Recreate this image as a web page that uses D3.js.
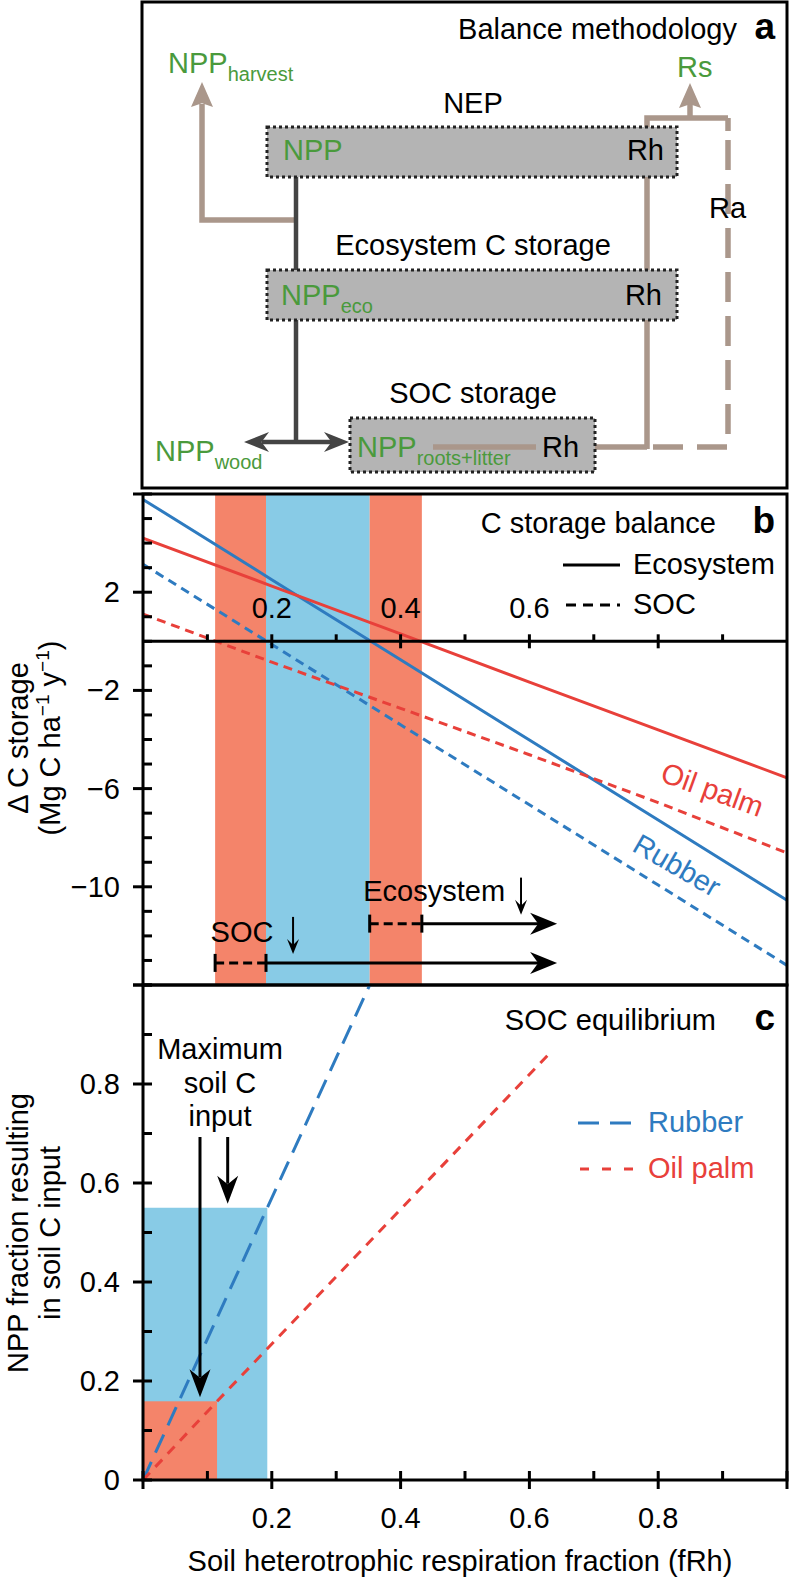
<!DOCTYPE html>
<html><head><meta charset="utf-8">
<script src="https://cdn.jsdelivr.net/npm/d3@7"></script>
<style>
body{margin:0;background:#fff}
text{font-family:"Liberation Sans", Arial, Helvetica, sans-serif;}
</style></head><body>
<svg id="fig" width="790" height="1581"></svg>
<script>
// ---------------- data ----------------
const bX = [0, 0.2, 0.4, 0.6, 0.8, 1.0];
const rubberEco = [5.78, 2.51, -0.75, -4.02, -7.28, -10.55];
const oilEco    = [4.20, 2.25, 0.30, -1.66, -3.61, -5.56];
const rubberSOC = [3.14, -0.13, -3.40, -6.66, -9.93, -13.20];
const oilSOC    = [1.11, -0.85, -2.73, -4.62, -6.57, -8.62];
const bandStart = [0.112, 0.191, 0.352];
const bandEnd   = [0.191, 0.352, 0.433];
const bandCrop  = ["Oil palm", "Rubber", "Oil palm"];
const bYTickLabels = [2, -2, -6, -10];
const bXTickLabels = [0.2, 0.4, 0.6];
const cYTickLabels = [0, 0.2, 0.4, 0.6, 0.8];
const cXTickLabels = [0.2, 0.4, 0.6, 0.8];
const rubberEqX = [0, 0.193, 0.352];
const rubberEqY = [0, 0.55, 1.0];
const oilEqX = [0, 0.115, 0.63];
const oilEqY = [0, 0.159, 0.86];
const maxCrop = ["Rubber", "Oil palm"];
const maxInputX = [0.193, 0.115];
const maxInputY = [0.55, 0.159];
const rangeLabels = ["Ecosystem", "SOC"];
const rangeFrom = [0.352, 0.112];
const rangeTo = [0.433, 0.191];
const rangeArrowEnd = [0.643, 0.643];
const rangeLevel = [-11.5, -13.1];
const rangeMarker = [0.587, 0.233];

const lineCol = {"Oil palm": "#e8403a", "Rubber": "#2e7bc0"};
const bandCol = {"Oil palm": "#f4846a", "Rubber": "#88cbe6"};
const green = "#4a9a3c", brown = "#aa978b", dark = "#444444";
const FS = 29;

// ---------------- setup ----------------
const svg = d3.select("#fig");
const x = d3.scaleLinear([0, 1], [143, 787]);
const yB = d3.scaleLinear([-14, 6], [985, 494]);
const yC = d3.scaleLinear([0, 1], [1480, 985]);
const fmt = v => String(v).replace("-", "\u2212");

function head(g, tx, ty, deg, len, hw, notch, fill) {
  g.append("path")
    .attr("d", `M0,0 L${-len},${-hw} L${-len*notch},0 L${-len},${hw} Z`)
    .attr("transform", `translate(${tx},${ty}) rotate(${deg})`)
    .attr("fill", fill);
}
function txt(g, s, px, py, opts = {}) {
  return g.append("text").attr("x", px).attr("y", py)
    .attr("font-size", opts.size || FS)
    .attr("fill", opts.fill || "#000")
    .attr("text-anchor", opts.anchor || "start")
    .attr("font-weight", opts.bold ? "bold" : "normal")
    .text(s);
}
function subtxt(g, main, sub, px, py, fill) {
  const t = g.append("text").attr("x", px).attr("y", py).attr("font-size", FS).attr("fill", fill);
  t.append("tspan").text(main);
  t.append("tspan").attr("font-size", 20).attr("dy", 8).text(sub);
}

// ================= Panel a =================
const a = svg.append("g");
a.append("rect").attr("x", 142).attr("y", 2).attr("width", 645).attr("height", 486)
  .attr("fill", "none").attr("stroke", "#000").attr("stroke-width", 3);
txt(a, "Balance methodology", 737, 39, {anchor: "end"});
txt(a, "a", 775, 39, {anchor: "end", bold: true, size: 37});

// brown flows
const bw = 5.5;
a.append("path").attr("d", "M296,220 H202 V104").attr("fill", "none").attr("stroke", brown).attr("stroke-width", bw);
head(a, 202, 82, -90, 25, 11, 0.85, brown);
a.append("path").attr("d", "M647,449 V118 H728").attr("fill", "none").attr("stroke", brown).attr("stroke-width", bw);
a.append("path").attr("d", "M690,118 V104").attr("fill", "none").attr("stroke", brown).attr("stroke-width", bw);
head(a, 690, 83, -90, 25, 11, 0.85, brown);
a.append("path").attr("d", "M728,118 V131").attr("fill", "none").attr("stroke", brown).attr("stroke-width", bw);
a.append("path").attr("d", "M728,140 V447 H647").attr("fill", "none").attr("stroke", brown)
  .attr("stroke-width", bw).attr("stroke-dasharray", "30,14");
a.append("path").attr("d", "M593,447 H647").attr("fill", "none").attr("stroke", brown).attr("stroke-width", bw);

// dark NPP flow
a.append("path").attr("d", "M296,177 V442").attr("stroke", dark).attr("stroke-width", 4.5).attr("fill", "none");
a.append("path").attr("d", "M262,442 H332").attr("stroke", dark).attr("stroke-width", 4.5).attr("fill", "none");
head(a, 244, 442, 180, 25, 10, 0.7, dark);
head(a, 349, 442, 0, 25, 10, 0.7, dark);

// boxes
function box(x0, y0, x1, y1) {
  a.append("rect").attr("x", x0).attr("y", y0).attr("width", x1 - x0).attr("height", y1 - y0)
    .attr("fill", "#b4b4b4").attr("stroke", "#222").attr("stroke-width", 3).attr("stroke-dasharray", "3,3");
}
box(267, 127, 677, 177);
box(267, 270, 677, 320);
box(350, 418, 595, 472);
a.append("path").attr("d", "M433,447 H536").attr("stroke", brown).attr("stroke-width", bw);

txt(a, "NEP", 473, 113, {anchor: "middle"});
txt(a, "NPP", 283, 160, {fill: green});
txt(a, "Rh", 664, 160, {anchor: "end"});
txt(a, "Ecosystem C storage", 473, 255, {anchor: "middle"});
subtxt(a, "NPP", "eco", 281, 305, green);
txt(a, "Rh", 662, 305, {anchor: "end"});
txt(a, "SOC storage", 473, 403, {anchor: "middle"});
subtxt(a, "NPP", "roots+litter", 357, 457, green);
txt(a, "Rh", 542, 457);
subtxt(a, "NPP", "wood", 155, 461, green);
subtxt(a, "NPP", "harvest", 168, 73, green);
txt(a, "Rs", 677, 77, {fill: green});
txt(a, "Ra", 709, 218);

// ================= Panel b =================
const b = svg.append("g");
svg.append("clipPath").attr("id", "clipB").append("rect")
  .attr("x", 143).attr("y", 494).attr("width", 644).attr("height", 491);
b.selectAll("rect.band").data(bandStart).join("rect")
  .attr("x", (d) => x(d)).attr("y", yB(6))
  .attr("width", (d, i) => x(bandEnd[i]) - x(d)).attr("height", yB(-14) - yB(6))
  .attr("fill", (d, i) => bandCol[bandCrop[i]]);

const lineB = d3.line().x((d) => x(d[0])).y((d) => yB(d[1]));
const seriesB = [
  {v: rubberEco, crop: "Rubber", dash: null},
  {v: oilEco, crop: "Oil palm", dash: null},
  {v: rubberSOC, crop: "Rubber", dash: "9,6"},
  {v: oilSOC, crop: "Oil palm", dash: "9,6"}
];
const gl = b.append("g").attr("clip-path", "url(#clipB)");
seriesB.forEach(s => {
  gl.append("path").attr("d", lineB(bX.map((xx, i) => [xx, s.v[i]])))
    .attr("fill", "none").attr("stroke", lineCol[s.crop]).attr("stroke-width", 3)
    .attr("stroke-dasharray", s.dash);
});

// zero axis
b.append("line").attr("x1", x(0)).attr("x2", x(1)).attr("y1", yB(0)).attr("y2", yB(0))
  .attr("stroke", "#000").attr("stroke-width", 3);
x.ticks(10).forEach(t => {
  if (t === 0 || t === 1) return;
  const major = Math.round(t * 10) % 2 === 0;
  b.append("line").attr("x1", x(t)).attr("x2", x(t))
    .attr("y1", yB(0) - 7).attr("y2", major ? yB(0) + 7 : yB(0))
    .attr("stroke", "#000").attr("stroke-width", 3);
});
bXTickLabels.forEach(t => txt(b, String(t), x(t), 618, {anchor: "middle"}));

// y ticks
yB.ticks(20).forEach(t => {
  const major = ((t - 2) % 4 + 4) % 4 === 0;
  b.append("line").attr("x1", major ? 133 : 143).attr("x2", 152)
    .attr("y1", yB(t)).attr("y2", yB(t)).attr("stroke", "#000").attr("stroke-width", 3);
});
bYTickLabels.forEach(t => txt(b, fmt(t), 120, yB(t) + 10, {anchor: "end"}));

b.append("rect").attr("x", 143).attr("y", 494).attr("width", 644).attr("height", 491)
  .attr("fill", "none").attr("stroke", "#000").attr("stroke-width", 3);

// legend
txt(b, "C storage balance", 716, 533, {anchor: "end"});
txt(b, "b", 775, 533, {anchor: "end", bold: true, size: 37});
b.append("line").attr("x1", 563).attr("x2", 620).attr("y1", 565).attr("y2", 565).attr("stroke", "#000").attr("stroke-width", 3);
txt(b, "Ecosystem", 633, 574);
b.append("line").attr("x1", 566).attr("x2", 620).attr("y1", 605).attr("y2", 605).attr("stroke", "#000").attr("stroke-width", 3).attr("stroke-dasharray", "10,7");
txt(b, "SOC", 633, 614);

// series labels
b.append("text").attr("transform", "translate(709,799) rotate(20)").attr("text-anchor", "middle")
  .attr("font-size", FS).attr("fill", lineCol["Oil palm"]).text("Oil palm");
b.append("text").attr("transform", "translate(672,874) rotate(30)").attr("text-anchor", "middle")
  .attr("font-size", FS).attr("fill", lineCol["Rubber"]).text("Rubber");

// range annotations
rangeLabels.forEach((lab, i) => {
  const yy = yB(rangeLevel[i]);
  const x0 = x(rangeFrom[i]), x1 = x(rangeTo[i]), x2 = x(rangeArrowEnd[i]);
  b.append("line").attr("x1", x0).attr("x2", x1).attr("y1", yy).attr("y2", yy)
    .attr("stroke", "#000").attr("stroke-width", 3).attr("stroke-dasharray", "9,5");
  [x0, x1].forEach(xx => b.append("line").attr("x1", xx).attr("x2", xx).attr("y1", yy - 9).attr("y2", yy + 9)
    .attr("stroke", "#000").attr("stroke-width", 3));
  b.append("line").attr("x1", x1).attr("x2", x2 - 18).attr("y1", yy).attr("y2", yy)
    .attr("stroke", "#000").attr("stroke-width", 3);
  head(b, x2, yy, 0, 27, 11, 0.7, "#000");
  const mx = x(rangeMarker[i]);
  b.append("line").attr("x1", mx).attr("x2", mx).attr("y1", yy - 46).attr("y2", yy - 14)
    .attr("stroke", "#000").attr("stroke-width", 2);
  head(b, mx, yy - 9, 90, 15, 6, 0.6, "#000");
});
txt(b, "Ecosystem", x(0.342), 901);
txt(b, "SOC", x(0.105), 942);

// y title
svg.append("text").attr("transform", "translate(28,738) rotate(-90)").attr("text-anchor", "middle")
  .attr("font-size", FS).text("\u0394 C storage");
const t2 = svg.append("g").attr("transform", "translate(60,738) rotate(-90)")
  .append("text").attr("text-anchor", "middle").attr("font-size", FS);
t2.append("tspan").text("(Mg C ha");
t2.append("tspan").attr("font-size", 19).attr("dy", -11).text("\u22121");
t2.append("tspan").attr("dy", 11).text(" y");
t2.append("tspan").attr("font-size", 19).attr("dy", -11).text("\u22121");
t2.append("tspan").attr("dy", 11).text(")");

// ================= Panel c =================
const c = svg.append("g");
maxCrop.forEach((crop, i) => {
  c.append("rect").attr("x", x(0)).attr("y", yC(maxInputY[i]))
    .attr("width", x(maxInputX[i]) - x(0)).attr("height", yC(0) - yC(maxInputY[i]))
    .attr("fill", bandCol[crop]);
});
svg.append("clipPath").attr("id", "clipC").append("rect")
  .attr("x", 143).attr("y", 985).attr("width", 644).attr("height", 495);
const lineC = d3.line().x((d) => x(d[0])).y((d) => yC(d[1]));
const gc = c.append("g").attr("clip-path", "url(#clipC)");
gc.append("path").attr("d", lineC(rubberEqX.map((v, i) => [v, rubberEqY[i]])))
  .attr("fill", "none").attr("stroke", lineCol["Rubber"]).attr("stroke-width", 3).attr("stroke-dasharray", "20,10");
gc.append("path").attr("d", lineC(oilEqX.map((v, i) => [v, oilEqY[i]])))
  .attr("fill", "none").attr("stroke", lineCol["Oil palm"]).attr("stroke-width", 3).attr("stroke-dasharray", "10,8");

// axes
yC.ticks(10).forEach(t => {
  const major = Math.round(t * 10) % 2 === 0;
  c.append("line").attr("x1", major ? 133 : 143).attr("x2", 152).attr("y1", yC(t)).attr("y2", yC(t))
    .attr("stroke", "#000").attr("stroke-width", 3);
});
cYTickLabels.forEach(t => txt(c, String(t), 120, yC(t) + 10, {anchor: "end"}));
x.ticks(10).forEach(t => {
  const major = Math.round(t * 10) % 2 === 0;
  c.append("line").attr("x1", x(t)).attr("x2", x(t)).attr("y1", yC(0) - 9).attr("y2", major ? yC(0) + 9 : yC(0))
    .attr("stroke", "#000").attr("stroke-width", 3);
});
cXTickLabels.forEach(t => txt(c, String(t), x(t), 1528, {anchor: "middle"}));
c.append("rect").attr("x", 143).attr("y", 985).attr("width", 644).attr("height", 495)
  .attr("fill", "none").attr("stroke", "#000").attr("stroke-width", 3);

txt(c, "SOC equilibrium", 716, 1030, {anchor: "end"});
txt(c, "c", 775, 1030, {anchor: "end", bold: true, size: 37});
txt(c, "Maximum", 220, 1059, {anchor: "middle"});
txt(c, "soil C", 220, 1093, {anchor: "middle"});
txt(c, "input", 220, 1126, {anchor: "middle"});
[[0.0885, 1], [0.1315, 0]].forEach(([xv, i]) => {
  const tipY = yC(maxInputY[i]) - 4;
  c.append("line").attr("x1", x(xv)).attr("x2", x(xv)).attr("y1", 1137).attr("y2", tipY - 20)
    .attr("stroke", "#000").attr("stroke-width", 3);
  head(c, x(xv), tipY, 90, 28, 10.5, 0.7, "#000");
});
// legend
c.append("line").attr("x1", 578).attr("x2", 631).attr("y1", 1123).attr("y2", 1123)
  .attr("stroke", lineCol["Rubber"]).attr("stroke-width", 3).attr("stroke-dasharray", "21,11");
txt(c, "Rubber", 648, 1132, {fill: lineCol["Rubber"]});
c.append("line").attr("x1", 580).attr("x2", 633).attr("y1", 1169).attr("y2", 1169)
  .attr("stroke", lineCol["Oil palm"]).attr("stroke-width", 3).attr("stroke-dasharray", "9,13");
txt(c, "Oil palm", 648, 1178, {fill: lineCol["Oil palm"]});

// titles
txt(svg, "Soil heterotrophic respiration fraction (fRh)", 460, 1571, {anchor: "middle"});
svg.append("text").attr("transform", "translate(28,1233) rotate(-90)").attr("text-anchor", "middle")
  .attr("font-size", FS).text("NPP fraction resulting");
svg.append("text").attr("transform", "translate(60,1233) rotate(-90)").attr("text-anchor", "middle")
  .attr("font-size", FS).text("in soil C input");
</script>
</body></html>
